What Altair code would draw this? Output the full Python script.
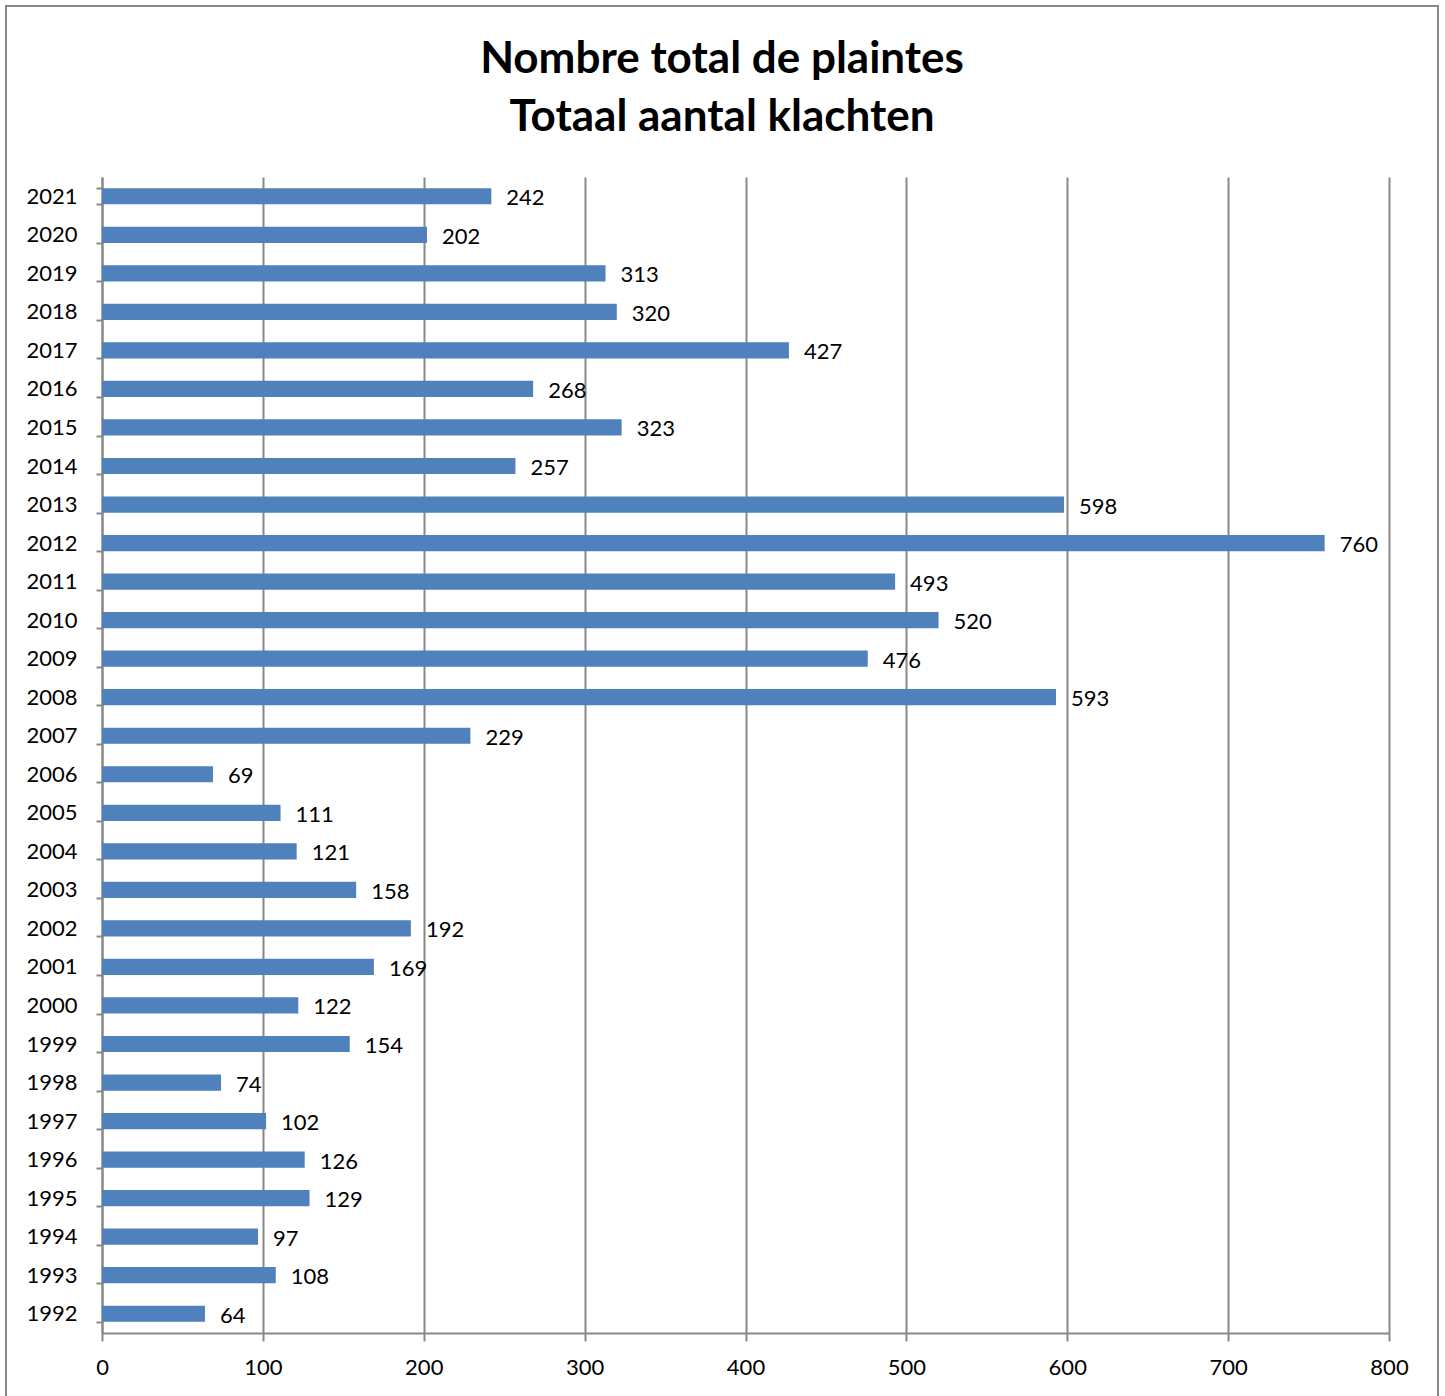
import altair as alt
import pandas as pd

# Complaints per year
years = [
    "2021", "2020", "2019", "2018", "2017", "2016", "2015", "2014", "2013", "2012",
    "2011", "2010", "2009", "2008", "2007", "2006", "2005", "2004", "2003", "2002",
    "2001", "2000", "1999", "1998", "1997", "1996", "1995", "1994", "1993", "1992",
]
complaints = [
    242, 202, 313, 320, 427, 268, 323, 257, 598, 760,
    493, 520, 476, 593, 229, 69, 111, 121, 158, 192,
    169, 122, 154, 74, 102, 126, 129, 97, 108, 64,
]
x_ticks = [0, 100, 200, 300, 400, 500, 600, 700, 800]
title_lines = ["Nombre total de plaintes", "Totaal aantal klachten"]

df = pd.DataFrame({"year": years, "count": complaints})

FONT = "Lato"
GREY = "#888888"
BLUE = "#4F81BD"

y_enc = alt.Y(
    "year:N",
    sort=years,
    scale=alt.Scale(paddingInner=0.58, paddingOuter=0.29),
    axis=alt.Axis(
        title=None,
        tickBand="extent",
        tickSize=6,
        tickColor=GREY,
        tickWidth=2,
        domainColor=GREY,
        domainWidth=2,
        grid=False,
        labelFont=FONT,
        labelFontSize=22,
        labelColor="black",
        labelPadding=19,
    ),
)
x_enc = alt.X(
    "count:Q",
    scale=alt.Scale(domain=[0, 800], nice=False),
    axis=alt.Axis(
        title=None,
        values=x_ticks,
        tickSize=8,
        tickColor=GREY,
        tickWidth=2,
        domainColor=GREY,
        domainWidth=2,
        grid=True,
        gridColor=GREY,
        gridWidth=2,
        labelFont=FONT,
        labelFontSize=22,
        labelColor="black",
        labelPadding=16,
        labelFlush=False,
    ),
)

bars = alt.Chart(df).mark_bar(color=BLUE).encode(x=x_enc, y=y_enc)

labels = alt.Chart(df).mark_text(
    align="left", baseline="middle", dx=15, dy=2, font=FONT, fontSize=22, color="black"
).encode(
    x=alt.X("count:Q"),
    y=alt.Y("year:N", sort=years),
    text=alt.Text("count:Q"),
)

# outer frame around the whole chart area
frame = alt.Chart(df).mark_rect(
    fill=None, stroke=GREY, strokeWidth=2
).encode(
    x=alt.value(-96), x2=alt.value(1336), y=alt.value(-171), y2=alt.value(1240)
)

# two-line heading, centred on the outer frame
heading = alt.Chart(pd.DataFrame({"text": [title_lines]})).mark_text(
    align="center",
    baseline="alphabetic",
    font=FONT,
    fontSize=44,
    fontWeight="bold",
    color="black",
    lineHeight=58,
).encode(
    x=alt.value(620),
    y=alt.value(-104),
    text="text:N",
)

chart = (
    alt.layer(frame, bars, labels, heading)
    .properties(
        width=1287,
        height=1156,
        autosize=alt.AutoSizeParams(type="none"),
        padding={"left": 102, "top": 177, "right": 56, "bottom": 63},
        background="white",
    )
    .configure_view(strokeWidth=0, stroke="transparent")
)

chart.save("out.html", embed_options={"renderer": "svg", "actions": False})
